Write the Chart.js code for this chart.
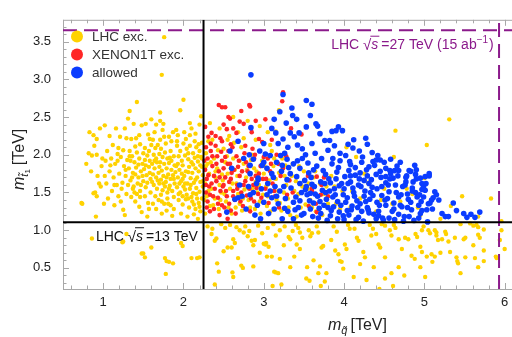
<!DOCTYPE html>
<html>
<head>
<meta charset="utf-8">
<script src="https://cdn.jsdelivr.net/npm/chart.js@4.4.0/dist/chart.umd.min.js"></script>
<style>
  html, body { margin: 0; padding: 0; background: #fff; overflow: hidden; }
  canvas { display: block; }
</style>
</head>
<body>
<canvas id="chart" width="520" height="337"></canvas>
<script>
// axis ranges and tick labels (TeV)
const xRange = [0.5, 6.1];
const yRange = [0.22, 3.79];
const xTicks = [1, 2, 3, 4, 5, 6];
const yTicks = [0.5, 1.0, 1.5, 2.0, 2.5, 3.0, 3.5];

const seriesNames = ['LHC exc.', 'XENON1T exc.', 'allowed'];
const seriesColors = ['#ffd200', '#ff2626', '#0b3cff'];

// LHC bounds: [squark mass, stop mass]
const lhc13Bound = [2.25, 1.106];
const lhc27Bound = [5.93, 3.65];

// points [m_squark, m_stop]
const lhcExcluded = [
  [0.74,1.35],[0.73,1.36],[0.83,2.30],[0.88,2.26],[0.82,2.02],[0.86,1.99],[0.92,2.0],[0.92,2.21],[0.88,1.49],[0.92,1.45],
  [0.90,1.50],[0.96,2.35],[0.91,1.18],[0.95,1.62],[0.85,1.78],[0.98,1.85],[0.93,1.72],[0.79,1.88],[0.97,1.58],[0.89,2.12],
  [0.99,1.95],[0.86,0.89],
  [1.02,2.39],[1.08,2.25],[1.01,1.35],[1.16,2.35],[1.27,2.35],[1.21,2.24],[1.29,2.22],[1.12,2.13],[1.19,2.09],[1.05,2.05],
  [1.03,1.92],[1.10,1.95],[1.15,1.88],[1.22,1.97],[1.26,1.85],[1.08,1.78],[1.13,1.70],[1.20,1.75],[1.28,1.72],[1.04,1.62],
  [1.17,1.60],[1.24,1.63],[1.11,1.52],[1.19,1.45],[1.25,1.27],[1.27,1.20],[1.06,1.42],[1.14,1.33],[1.23,1.55],[1.29,1.48],
  [1.09,1.86],[1.18,2.01],[1.25,2.06],[1.30,1.93],[1.02,1.72],[1.25,0.85],[1.29,0.95],[1.24,0.84],
  [1.33,2.58],[1.31,2.48],[1.42,2.70],[1.38,2.41],[1.35,2.21],[1.41,2.22],[1.48,2.39],[1.53,2.41],[1.46,2.14],[1.52,2.09],
  [1.56,2.27],[1.58,2.21],[1.60,2.47],[1.33,2.05],[1.36,1.98],[1.39,1.90],[1.42,2.03],[1.45,1.95],[1.49,1.88],[1.55,1.99],
  [1.58,1.92],[1.32,1.82],[1.37,1.76],[1.41,1.83],[1.44,1.70],[1.47,1.78],[1.51,1.81],[1.54,1.73],[1.57,1.84],[1.34,1.66],
  [1.38,1.58],[1.43,1.62],[1.46,1.52],[1.50,1.65],[1.53,1.57],[1.59,1.68],[1.35,1.44],[1.40,1.38],[1.45,1.31],[1.52,1.45],
  [1.56,1.36],[1.59,1.50],[1.48,1.24],[1.55,1.18],[1.37,1.55],[1.44,1.87],[1.52,1.93],[1.40,2.11],[1.57,2.05],[1.34,1.92],
  [1.47,1.60],[1.55,1.63],[1.42,1.48],[1.48,0.69],[1.52,0.64],[1.50,0.69],[1.60,0.77],
  [1.73,3.06],[1.76,3.56],[1.71,2.56],[1.71,2.45],[1.75,2.41],[1.74,2.33],[1.65,2.09],[1.68,2.13],[1.72,2.08],[1.82,2.24],
  [1.85,2.18],[1.87,2.30],[1.62,2.20],[1.63,2.00],[1.66,1.95],[1.70,2.01],[1.74,1.97],[1.77,2.03],[1.80,1.95],[1.84,2.05],
  [1.88,1.98],[1.61,1.88],[1.64,1.82],[1.67,1.90],[1.70,1.84],[1.73,1.79],[1.76,1.88],[1.79,1.82],[1.82,1.89],[1.85,1.80],
  [1.89,1.86],[1.62,1.74],[1.66,1.70],[1.69,1.76],[1.72,1.67],[1.75,1.72],[1.78,1.64],[1.81,1.74],[1.84,1.68],[1.87,1.73],
  [1.63,1.60],[1.67,1.55],[1.70,1.62],[1.74,1.53],[1.77,1.58],[1.80,1.50],[1.83,1.59],[1.86,1.52],[1.89,1.62],[1.65,1.45],
  [1.69,1.40],[1.72,1.47],[1.76,1.35],[1.80,1.42],[1.84,1.33],[1.88,1.44],[1.66,1.28],[1.73,1.22],[1.79,1.26],[1.86,1.19],
  [1.71,2.20],[1.78,2.15],[1.64,2.30],[1.83,1.96],[1.77,0.63],[1.87,0.56],[1.78,0.42],[1.79,0.59],[1.82,0.58],
  [1.96,2.59],[2.00,2.73],[2.22,2.51],[2.08,2.42],[2.10,2.35],[1.91,2.33],[1.93,2.26],[2.08,2.26],[2.03,2.21],[2.15,2.28],
  [2.20,2.40],[1.92,2.12],[1.96,2.05],[2.00,2.15],[2.04,2.08],[2.08,2.12],[2.12,2.02],[2.16,2.10],[2.20,2.05],[2.23,2.16],
  [1.94,1.98],[1.98,1.92],[2.02,1.99],[2.06,1.94],[2.10,1.90],[2.14,1.96],[2.18,1.91],[2.22,1.97],[1.91,1.85],[1.95,1.80],
  [1.99,1.86],[2.03,1.78],[2.07,1.84],[2.11,1.76],[2.15,1.82],[2.19,1.78],[2.23,1.84],[1.93,1.70],[1.97,1.65],[2.01,1.72],
  [2.05,1.62],[2.09,1.69],[2.13,1.63],[2.17,1.70],[2.21,1.64],[1.92,1.57],[1.96,1.50],[2.00,1.58],[2.04,1.47],[2.08,1.55],
  [2.12,1.49],[2.16,1.56],[2.20,1.51],[2.24,1.58],[1.94,1.40],[1.99,1.34],[2.03,1.41],[2.07,1.30],[2.11,1.38],[2.15,1.28],
  [2.19,1.36],[2.23,1.42],[1.97,1.22],[2.05,1.18],[2.13,1.21],[2.21,1.25],[2.18,1.15],[2.01,2.30],[2.14,2.18],[1.98,1.75],
  [2.10,1.44],[2.17,1.42],[2.24,1.73],[1.97,0.83],[1.99,0.79],[2.10,0.63],[2.20,0.64],[2.17,0.63],
  [1.36,1.70],[1.40,1.74],[1.49,1.72],[1.53,1.86],[1.58,1.76],[1.61,1.64],[1.64,1.92],[1.68,1.66],[1.71,1.90],[1.75,1.62],
  [1.79,1.70],[1.82,1.55],[1.85,1.92],[1.88,1.68],[1.90,1.77],[1.93,1.88],[1.95,1.62],[1.99,1.68],[2.02,1.54],[2.06,1.77],
  [2.09,1.60],[2.12,1.87],[2.15,1.67],[2.18,1.98],[2.21,1.86],[2.24,1.65],[1.94,1.48],[1.99,1.45],[2.06,1.42],[2.13,1.34],
  [2.20,1.31],[1.88,1.28],[1.81,1.35],[1.73,1.38],[1.62,1.35],[1.57,1.28],[1.46,1.44],[1.39,1.50],[1.31,1.60],[1.28,1.80],
  [1.33,1.98],[1.50,2.02],[1.60,2.13],[1.76,2.24],[1.92,2.18],[2.06,2.02],[2.19,2.14],[1.66,2.40],[1.45,2.26],[1.18,1.92],
  [1.14,1.60],[1.22,1.38],[2.23,1.95],[2.16,1.48],[2.02,1.62],
  [2.28,2.02],[2.30,1.88],[2.32,1.75],[2.27,1.62],[2.35,1.55],[2.29,1.45],[2.33,1.32],[2.27,1.22],[2.38,1.95],[2.40,1.70],
  [2.42,1.82],[2.45,1.60],[2.39,1.42],[2.47,1.50],[2.44,1.28],[2.50,2.08],[2.52,1.90],[2.55,1.75],[2.49,1.66],[2.58,1.55],
  [2.53,1.38],[2.60,1.22],[2.62,1.95],[2.64,1.80],[2.66,1.62],[2.68,1.48],[2.70,1.35],[2.72,2.10],[2.75,1.88],[2.78,1.70],
  [2.80,1.57],[2.74,1.42],[2.83,1.30],[2.85,2.00],[2.88,1.82],[2.90,1.64],[2.92,1.50],[2.95,1.38],[2.98,1.92],[3.00,1.75],
  [3.03,1.58],[3.05,1.45],[3.08,1.25],[3.10,2.05],[3.12,1.85],[3.15,1.68],[3.18,1.52],[3.20,1.36],[3.23,1.95],[3.26,1.72],
  [3.28,1.60],[3.30,1.42],[3.33,1.20],[3.36,1.88],[3.40,1.65],[3.43,1.48],[3.46,1.30],[3.50,1.78],[3.55,1.55],[3.58,1.40],
  [3.62,1.70],[3.65,1.25],[3.70,1.62],[3.75,1.48],[3.80,1.35],[3.88,1.58],[3.95,1.28],[4.03,2.10],[4.15,1.97],[4.10,1.52],
  [4.20,1.42],[4.30,1.63],[4.40,1.25],[4.50,1.55],[4.62,1.97],[4.64,2.32],[4.70,1.38],[4.85,1.48],[5.03,2.13],[5.31,2.47],
  [5.47,1.45],[5.83,1.42],[5.00,1.69],[5.33,1.32],[5.67,1.18],[4.95,1.20],[5.20,1.15],[2.36,2.20],[2.57,2.25],[2.45,2.35],
  [2.68,2.30],[2.90,2.20],[3.05,2.30],[2.80,2.45],[3.19,2.59],[3.15,2.31],[2.31,2.18],
  [2.26,1.40],[2.28,1.85],[2.31,1.52],[2.34,1.90],[2.37,1.33],[2.40,1.78],[2.43,2.06],[2.46,1.40],[2.48,1.74],[2.51,1.48],
  [2.54,1.98],[2.56,1.30],[2.59,1.82],[2.61,1.62],[2.63,2.16],[2.65,1.30],[2.67,1.72],[2.70,1.92],[2.73,1.26],[2.76,1.54],
  [2.79,1.80],[2.81,1.40],[2.84,1.93],[2.86,1.55],[2.89,1.28],[2.91,1.78],[2.94,1.60],[2.96,1.22],[2.99,1.47],[3.01,1.85],
  [3.04,1.32],[3.07,1.66],[3.10,1.52],[3.13,1.95],[3.16,1.40],[3.19,1.76],[3.22,1.26],[3.25,1.50],[3.27,1.86],[3.31,1.30],
  [3.35,1.72],[3.38,1.52],[3.41,1.18],[3.44,1.85],[3.48,1.58],[3.52,1.34],[3.56,1.62],[3.60,1.30],[3.64,1.78],[3.68,1.45],
  [3.73,1.20],[3.78,1.58],[3.84,1.72],[3.90,1.35],[3.98,1.52],[4.08,1.30],[4.25,1.75],[4.46,1.40],[4.60,1.35],[4.78,1.55],
  [4.92,1.30],[2.55,2.20],[2.75,2.22],[2.95,2.38],[3.08,2.13],[2.33,2.42],[2.62,2.50],
  [2.30,1.05],[2.36,1.02],[2.47,1.08],[2.52,1.03],[2.58,1.07],[2.66,1.04],[2.93,1.06],[3.05,1.03],[3.12,1.08],[3.20,1.00],
  [3.26,1.05],[2.98,0.96],[3.15,0.93],[3.36,0.99],
  [2.41,0.89],[2.39,0.86],[2.42,0.56],[2.39,0.28],[2.55,0.77],[2.60,0.77],[2.62,0.88],[2.64,0.83],[2.61,0.44],[2.62,0.38],
  [2.72,0.53],[2.74,0.50],[2.70,1.00],[2.75,0.97],[2.77,1.05],[2.82,0.99],[2.85,0.86],[2.87,0.80],[2.87,0.52],[2.89,0.87],
  [3.00,0.82],[3.02,0.81],[3.06,0.78],[3.04,0.65],[3.10,0.65],[3.15,0.44],[3.18,0.43],[3.22,0.28],[3.20,0.62],[3.31,0.91],
  [3.33,0.88],[3.33,0.51],[3.40,1.07],[3.43,1.03],[3.45,0.97],[3.41,0.81],[3.45,0.75],[3.03,0.83],[3.13,0.45],[3.11,0.26],
  [3.53,0.36],[3.57,0.33],[3.71,0.26],[4.44,0.22],[4.61,0.26],[4.51,0.36],
  [2.35,0.95],[2.50,0.72],[2.68,0.63],[2.80,0.92],[2.95,0.70],[3.25,0.80],[3.38,0.65],[3.48,0.90],[3.62,0.60],[3.84,0.87],
  [4.20,0.55],[4.40,0.95],[4.75,0.40],[5.30,0.85],[2.44,0.45],[3.70,0.52],
  [3.56,1.00],[3.60,0.96],[3.58,0.92],[3.54,0.51],[3.66,1.05],[3.68,0.97],[3.72,0.77],[3.74,0.79],[3.68,0.43],[3.78,0.43],
  [3.76,0.32],[3.87,1.05],[3.91,0.98],[3.89,0.73],[3.93,0.68],[3.97,0.58],[3.95,0.59],[3.99,0.49],[4.01,0.81],[4.03,0.75],
  [4.05,1.07],[4.07,1.02],[4.13,1.02],[4.16,0.90],[4.18,0.86],[4.12,0.38],[4.24,0.71],[4.26,0.64],[4.28,0.34],[4.32,1.07],
  [4.36,1.02],[4.34,0.93],[4.37,0.51],[4.43,0.81],[4.45,0.77],[4.47,1.08],[4.51,1.06],[4.51,0.64],[4.57,1.00],[4.59,0.93],
  [4.59,0.43],[4.62,1.07],[4.64,1.03],[4.68,0.88],[4.68,0.51],[4.72,0.75],[4.76,0.90],[4.80,0.88],[4.84,0.66],[4.88,0.62],
  [4.89,0.95],[4.91,0.91],[4.95,0.78],[4.97,1.00],[4.99,1.05],[4.95,0.51],[5.01,0.38],[5.05,1.00],[5.07,0.96],
  [5.13,1.00],[5.15,0.97],[5.26,0.98],[5.27,0.95],[5.15,0.93],[5.17,0.87],[5.22,0.88],[5.45,1.08],[5.57,1.09],[5.61,1.06],
  [5.65,1.07],[5.67,1.04],[5.74,1.01],[5.38,0.90],[5.49,0.88],[5.51,0.90],[5.67,0.94],[5.69,0.90],[5.61,0.80],[5.74,0.73],
  [4.97,0.71],[5.03,0.65],[5.09,0.68],[5.13,0.65],[5.20,0.70],[5.32,0.71],[5.40,0.64],[5.41,0.59],[5.42,0.56],[5.51,0.64],
  [5.63,0.63],[5.67,0.51],[5.74,0.59],[5.45,0.43],[5.10,0.58],[5.89,0.65],[5.90,0.63],[5.94,0.87],[5.96,1.00],[6.00,0.75],
  [5.96,1.12]
];

const xenonExcluded = [
  [2.44,2.66],[2.48,2.63],[2.52,2.63],[2.82,2.66],[2.83,2.64],[2.56,2.50],[2.58,2.48],[2.70,2.44],[2.75,2.41],[2.54,2.34],
  [2.35,2.29],[2.31,2.24],[2.66,2.29],[2.46,2.22],[2.48,2.18],[2.94,2.21],[2.98,2.17],[3.24,2.83],[3.23,2.71],[3.02,2.47],
  [2.27,2.37],[3.34,2.35],[3.47,2.27],
  [2.28,2.10],[2.30,1.95],[2.27,1.80],[2.29,1.68],[2.32,1.58],[2.28,1.50],[2.30,1.38],[2.34,2.05],[2.36,1.85],[2.38,1.72],
  [2.35,1.62],[2.37,1.45],[2.40,2.12],[2.42,1.98],[2.44,1.78],[2.41,1.65],[2.46,1.52],[2.43,1.35],[2.48,1.92],[2.50,1.82],
  [2.52,1.70],[2.49,1.58],[2.54,1.45],[2.51,1.30],[2.56,2.05],[2.58,1.88],[2.60,1.76],[2.57,1.64],[2.62,1.52],[2.64,1.40],
  [2.59,1.26],[2.66,1.98],[2.68,1.84],[2.70,1.72],[2.67,1.60],[2.72,1.50],[2.74,1.32],[2.76,2.02],[2.78,1.90],[2.80,1.78],
  [2.77,1.65],[2.82,1.55],[2.84,1.42],[2.86,2.08],[2.88,1.95],[2.90,1.72],[2.87,1.60],[2.93,1.48],[2.96,1.85],[2.99,1.68],
  [3.02,1.55],[3.05,1.95],[3.08,1.78],[3.11,1.62],[3.14,1.45],[3.18,1.88],[3.21,1.72],[3.25,1.58],[3.28,1.98],[3.32,1.66],
  [3.36,1.50],[3.45,1.62],[3.55,1.72],[3.60,1.52],[3.65,1.35],[3.72,1.60],[3.80,1.45],
  [2.33,1.25],[2.45,1.20],[2.55,1.15],[3.66,1.71],[3.60,1.55],[3.71,1.47],[3.56,1.32],[3.66,1.24],[3.75,1.70],
  [2.26,1.92],[2.29,1.30],[2.31,1.73],[2.33,1.47],[2.36,1.98],[2.38,1.28],[2.39,1.55],[2.41,1.88],[2.43,1.43],[2.45,1.70],
  [2.47,2.04],[2.48,1.33],[2.50,1.60],[2.52,1.97],[2.53,1.52],[2.55,1.88],[2.57,1.35],[2.59,1.68],[2.61,2.10],[2.62,1.45],
  [2.63,1.80],[2.65,1.22],[2.67,1.55],[2.69,1.92],[2.71,1.38],[2.73,1.78],[2.75,1.60],[2.77,2.12],[2.79,1.46],[2.81,1.85],
  [2.83,1.25],[2.85,1.68],[2.88,1.38],[2.89,2.00],[2.91,1.56],[2.94,1.75],[2.97,1.43],[3.00,1.97],[3.03,1.68],[3.06,1.36],
  [3.09,1.88],[3.13,1.52],[3.16,2.00],[3.19,1.30],[3.24,1.82],[3.29,1.47],
  [2.40,2.25],[2.62,2.35],[2.85,2.30],[2.72,2.58],[2.59,2.14],[2.34,2.15],[2.50,2.40],[3.10,2.20],[2.90,2.45],[2.28,1.60]
];

const allowed = [
  [2.84,3.06],[3.24,2.80],[3.53,2.72],[3.60,2.67],[3.20,2.57],[3.36,2.52],[3.41,2.47],[3.13,2.47],[3.65,2.41],[3.67,2.38],
  [3.53,2.37],[2.84,2.36],[3.15,2.29],[3.33,2.29],[3.38,2.24],[3.44,2.29],[3.85,2.31],[3.90,2.32],[3.93,2.37],[3.98,2.32],
  [3.76,2.19],[3.82,2.19],[4.05,2.14],[4.11,2.09],[4.29,2.14],[4.27,2.22],[4.19,2.05],[4.36,1.91],[4.40,1.93],[4.45,1.93],
  [4.52,1.82],[4.57,1.79],[4.63,1.79],[4.81,1.79],[5.06,1.75],[3.00,2.15],[3.24,2.21],[2.58,2.05],[2.82,2.00],[2.87,1.94],
  [3.02,2.01],[3.21,1.99],[3.26,2.02],
  [5.06,1.72],[4.99,1.58],[5.01,1.53],[4.97,1.54],[5.13,1.51],[5.15,1.47],[5.11,1.43],[5.09,1.40],[5.07,1.36],[5.05,1.35],
  [5.36,1.36],[5.03,1.27],[4.97,1.26],[5.26,1.18],[5.30,1.18],[5.49,1.22],[5.53,1.17],[5.63,1.17],[5.69,1.24],[5.04,1.11],
  [3.56,1.76],[3.62,1.80],[3.77,1.74],[3.91,1.77],[4.06,1.79],[4.14,1.73],[4.20,1.76],[4.29,1.72],[4.45,1.78],[4.52,1.71],
  [4.58,1.75],[4.68,1.79],[4.77,1.70],[4.83,1.78],[4.89,1.74],[4.95,1.69],[5.01,1.71],
  [3.60,1.61],[3.71,1.64],[3.83,1.63],[3.94,1.59],[4.08,1.64],[4.18,1.60],[4.25,1.66],[4.35,1.57],[4.52,1.63],[4.64,1.60],
  [4.77,1.64],[4.85,1.56],[4.97,1.62],
  [3.58,1.49],[3.67,1.45],[3.77,1.50],[3.89,1.47],[3.99,1.47],[4.12,1.50],[4.25,1.45],[4.33,1.50],[4.47,1.46],[4.56,1.51],
  [4.68,1.44],[4.79,1.48],[4.89,1.50],[4.99,1.44],
  [3.62,1.36],[3.75,1.33],[3.87,1.31],[4.02,1.37],[4.10,1.32],[4.20,1.35],[4.29,1.30],[4.41,1.37],[4.52,1.33],[4.62,1.36],
  [4.72,1.31],[4.83,1.37],[4.93,1.33],
  [3.71,1.22],[3.83,1.19],[3.94,1.24],[4.06,1.20],[4.18,1.17],[4.31,1.23],[4.43,1.19],[4.56,1.16],[4.68,1.21],[4.81,1.18],
  [4.95,1.22],[3.79,1.13],[4.00,1.14],[4.24,1.12],[4.49,1.13],[4.74,1.12],
  [3.85,1.88],[3.95,1.92],[4.08,1.87],[4.22,1.90],[3.72,1.95],[4.02,1.99],[4.31,1.84],[3.64,2.02],[3.80,2.06],[3.48,2.08],
  [2.68,1.43],[2.73,1.45],[2.64,1.41],[2.54,1.24],[2.83,1.47],[2.87,1.50],[2.81,1.58],[2.91,1.62],[2.93,1.67],[3.04,1.47],
  [3.08,1.52],[3.10,1.43],[3.00,1.37],[3.16,1.45],[3.20,1.52],[3.25,1.58],[3.29,1.67],[3.37,1.37],[3.43,1.30],[3.45,1.39],
  [3.54,1.47],[3.52,1.54],[3.45,1.62],[3.41,1.71],[2.96,1.15],[3.23,1.15],[3.37,1.15],[3.10,1.75],[2.93,1.69],[2.83,1.75],
  [2.98,1.86],[3.04,1.82],[3.16,1.90],[3.23,1.86],[3.29,1.94],[3.37,1.88],[3.45,1.82],[2.83,1.86],[2.60,1.82],[3.08,1.99],
  [3.13,1.28],[3.30,1.25],[3.50,1.22],[3.58,1.28],[3.48,1.95],
  [3.05,1.62],[3.12,1.70],[3.18,1.35],[3.22,1.78],[3.27,1.42],[3.31,1.83],[3.34,1.56],[3.39,1.27],[3.42,1.92],[3.47,1.50],
  [3.51,1.66],[3.55,1.89],[3.57,1.39],[3.61,1.18],[3.63,1.58],[3.66,1.85],[3.69,1.29],[3.73,1.53],[3.74,1.79],[3.78,1.41],
  [3.81,1.68],[3.84,1.26],[3.86,1.95],[3.88,1.55],[3.92,1.38],[3.93,1.83],[3.97,1.62],[3.99,1.19],[4.01,1.71],[4.04,1.43],
  [4.07,1.91],[4.09,1.27],[4.11,1.56],[4.14,1.83],[4.16,1.39],[4.19,1.68],[4.22,1.25],[4.23,1.97],[4.26,1.52],[4.28,1.80],
  [4.32,1.41],[4.34,1.67],[4.37,1.21],[4.38,1.86],[4.41,1.55],[4.44,1.33],[4.46,1.70],[4.48,1.16],[4.50,1.90],[4.54,1.42],
  [4.55,1.60],[4.60,1.25],[4.61,1.69],[4.65,1.50],[4.66,1.85],[4.70,1.33],[4.73,1.58],[4.75,1.18],[4.78,1.72],[4.80,1.41],
  [4.84,1.27],[4.86,1.64],[4.88,1.86],[4.91,1.44],[4.93,1.16],[4.96,1.38],[5.02,1.62],[5.10,1.28],[5.18,1.40],[5.22,1.22],
  [5.40,1.26],[5.58,1.21],
  [3.60,2.15],[3.70,2.28],[3.88,2.12],[3.95,2.02],[4.12,2.20],[4.35,2.03],[4.42,1.99],[4.58,1.94],[4.70,1.90],[4.90,1.80],
  [3.52,2.00],[3.42,2.13],[3.30,2.10],[3.18,2.15],[3.10,2.35],[3.28,2.42],[3.58,2.52],[3.35,2.62],
  [2.70,1.60],[2.78,1.28],[2.92,1.33],[2.97,1.55],[2.75,1.95],[2.68,2.18],[2.95,2.05],[3.14,1.58],[3.26,1.29],[3.47,1.20],
  [3.33,1.75],[3.06,1.22],[2.89,1.20],[3.00,1.90],[3.40,1.44],
  [3.53,1.58],[3.59,1.70],[3.64,1.48],[3.70,1.38],[3.76,1.62],[3.80,1.30],[3.86,1.44],[3.90,1.68],[3.96,1.33],[4.00,1.55],
  [4.04,1.26],[4.08,1.72],[4.13,1.45],[4.17,1.30],[4.21,1.58],[4.27,1.38],[4.31,1.62],[4.36,1.46],[4.40,1.74],[4.43,1.25],
  [4.47,1.58],[4.51,1.40],[4.57,1.68],[4.62,1.28],[4.67,1.72],[4.71,1.47],[4.76,1.60],[4.79,1.30],[4.85,1.52],[4.90,1.68],
  [4.94,1.47],[3.68,1.16],[3.92,1.15],[4.15,1.14],[4.40,1.15],[4.63,1.14],[4.87,1.13],[3.82,1.52],[4.05,1.62],[4.30,1.27]
];

const toPoints = arr => arr.map(p => ({x: p[0], y: p[1]}));
const vLine = xv => [{x: xv, y: yRange[0]}, {x: xv, y: yRange[1]}];
const hLine = yv => [{x: xRange[0], y: yv}, {x: xRange[1], y: yv}];

const PURPLE = '#8b1a8b';
const FONT = "'Liberation Sans', Arial, 'DejaVu Sans', sans-serif";

function boundLine(data, color, dash) {
  return {
    type: 'line', data, borderColor: color, borderWidth: 2, borderDash: dash,
    pointRadius: 0, fill: false, order: 0, isBound: true
  };
}

// frame with inward ticks (Mathematica style)
function drawFrame(chart) {
  const {ctx, chartArea: a, scales: {x, y}} = chart;
  ctx.save();
  ctx.strokeStyle = '#a8a8a8';
  ctx.lineWidth = 1;
  ctx.beginPath();
  ctx.moveTo(a.left + 0.5, a.bottom); ctx.lineTo(a.left + 0.5, a.top);
  ctx.moveTo(a.left, a.bottom + 0.5); ctx.lineTo(a.right, a.bottom + 0.5);
  ctx.moveTo(a.left, a.top + 0.5); ctx.lineTo(a.right, a.top + 0.5);
  for (let k = 3; k <= 30; k++) {
    const px = Math.round(x.getPixelForValue(k * 0.2)) + 0.5;
    const len = k % 5 === 0 ? 6 : 3.5;
    ctx.moveTo(px, a.bottom); ctx.lineTo(px, a.bottom - len);
    ctx.moveTo(px, a.top); ctx.lineTo(px, a.top + len);
  }
  for (let k = 3; k <= 37; k++) {
    const py = Math.round(y.getPixelForValue(k * 0.1)) + 0.5;
    const len = k % 5 === 0 ? 6 : 3.5;
    ctx.moveTo(a.left, py); ctx.lineTo(a.left + len, py);
  }
  ctx.stroke();
  ctx.restore();
}

// "LHC √s =.. TeV" label, left/baseline anchored at data coords
function drawSqrtLabel(ctx, x0, y0, color, tail, sup, supTail) {
  ctx.save();
  ctx.fillStyle = color;
  ctx.strokeStyle = color;
  ctx.textBaseline = 'alphabetic';
  ctx.textAlign = 'left';
  ctx.font = '14px ' + FONT;
  let x = x0;
  ctx.fillText('LHC ', x, y0); x += ctx.measureText('LHC ').width;
  ctx.font = '15px ' + FONT;
  ctx.fillText('\u221A', x, y0 + 1); const rootW = ctx.measureText('\u221A').width;
  const barStart = x + rootW - 1;
  x += rootW;
  ctx.font = 'italic 14px ' + FONT;
  ctx.fillText('s', x, y0); const sw = ctx.measureText('s').width;
  ctx.lineWidth = 1;
  ctx.beginPath(); ctx.moveTo(barStart, y0 - 13); ctx.lineTo(x + sw + 1, y0 - 13); ctx.stroke();
  x += sw + 3;
  ctx.font = '14px ' + FONT;
  ctx.fillText(tail, x, y0); x += ctx.measureText(tail).width;
  if (sup) {
    ctx.font = '10px ' + FONT;
    ctx.fillText(sup, x, y0 - 6); x += ctx.measureText(sup).width;
    ctx.font = '14px ' + FONT;
    ctx.fillText(supTail, x + 1, y0);
  }
  ctx.restore();
}

const decorations = {
  id: 'decorations',
  beforeDatasetsDraw(chart) { drawFrame(chart); },
  afterDatasetsDraw(chart) {
    const {ctx, scales: {x, y}} = chart;
    drawSqrtLabel(ctx, x.getPixelForValue(0.91), y.getPixelForValue(0.86), '#111', '=13 TeV');
    drawSqrtLabel(ctx, x.getPixelForValue(3.84), y.getPixelForValue(3.40), PURPLE, '=27 TeV (15 ab', '\u22121', ')');

    // legend inside the plot
    ctx.save();
    ctx.textBaseline = 'middle';
    ctx.font = '13.5px ' + FONT;
    chart.data.datasets.filter(d => !d.isBound).forEach((d, i) => {
      const cy = 36.5 + i * 18;
      ctx.fillStyle = d.backgroundColor;
      ctx.beginPath(); ctx.arc(77, cy, 6, 0, Math.PI * 2); ctx.fill();
      ctx.fillStyle = '#333';
      ctx.fillText(d.label, 92, cy + 1);
    });
    ctx.restore();
  },
  afterDraw(chart) {
    const {ctx} = chart;
    ctx.save();
    ctx.fillStyle = '#222';
    ctx.textBaseline = 'alphabetic';
    // x title: m_q~ [TeV]
    let x = 328;
    const by = 330;
    ctx.font = 'italic 16px ' + FONT;
    ctx.fillText('m', x, by); x += ctx.measureText('m').width;
    ctx.font = 'italic 11px ' + FONT;
    ctx.fillText('q\u0303', x, by + 4); x += ctx.measureText('q').width + 3;
    ctx.font = '16px ' + FONT;
    ctx.fillText('[TeV]', x, by);
    // y title: m_t~1 [TeV], rotated
    ctx.translate(24, 190);
    ctx.rotate(-Math.PI / 2);
    x = 0;
    ctx.font = 'italic 16px ' + FONT;
    ctx.fillText('m', x, 0); x += ctx.measureText('m').width;
    ctx.font = 'italic 11px ' + FONT;
    ctx.fillText('t\u0303', x, 4); x += ctx.measureText('t').width;
    ctx.font = '8px ' + FONT;
    ctx.fillText('1', x, 6); x += ctx.measureText('1').width + 4;
    ctx.font = '16px ' + FONT;
    ctx.fillText('[TeV]', x, 0);
    ctx.restore();
  }
};

const ctx = document.getElementById('chart').getContext('2d');
new Chart(ctx, {
  type: 'scatter',
  data: {
    datasets: [
      boundLine(vLine(lhc13Bound[0]), '#000', []),
      boundLine(hLine(lhc13Bound[1]), '#000', []),
      boundLine(vLine(lhc27Bound[0]), PURPLE, [14, 7]),
      boundLine(hLine(lhc27Bound[1]), PURPLE, [14, 7]),
      { label: seriesNames[0], data: toPoints(lhcExcluded), backgroundColor: seriesColors[0],
        pointRadius: 2.2, pointBorderWidth: 0, order: 3 },
      { label: seriesNames[1], data: toPoints(xenonExcluded), backgroundColor: seriesColors[1],
        pointRadius: 2.3, pointBorderWidth: 0, order: 2 },
      { label: seriesNames[2], data: toPoints(allowed), backgroundColor: seriesColors[2],
        pointRadius: 2.8, pointBorderWidth: 0, order: 1 }
    ]
  },
  options: {
    responsive: false,
    animation: false,
    layout: { padding: { left: 0, right: 7.3, top: 10, bottom: 0 } },
    plugins: { legend: { display: false }, tooltip: { enabled: false } },
    scales: {
      x: {
        type: 'linear', min: xRange[0], max: xRange[1],
        grid: { display: false, drawTicks: false }, border: { display: false },
        afterBuildTicks: s => { s.ticks = xTicks.map(v => ({value: v})); },
        afterFit: s => { s.height = 48; },
        ticks: { font: { family: FONT, size: 13 }, color: '#222', padding: 6, maxRotation: 0,
                 callback: v => String(v) }
      },
      y: {
        type: 'linear', min: yRange[0], max: yRange[1],
        grid: { display: false, drawTicks: false }, border: { display: false },
        afterBuildTicks: s => { s.ticks = yTicks.map(v => ({value: v})); },
        afterFit: s => { s.width = 63; },
        ticks: { font: { family: FONT, size: 13 }, color: '#222', padding: 12,
                 callback: v => v.toFixed(1) }
      }
    }
  },
  plugins: [decorations]
});
</script>
</body>
</html>
